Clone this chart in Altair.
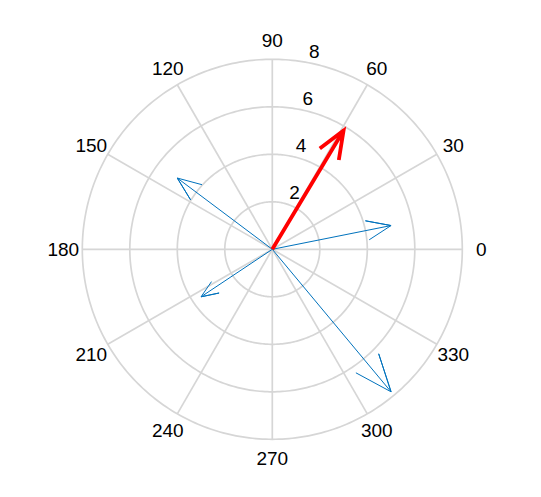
import altair as alt
import numpy as np
import pandas as pd

# Vector data (u, v components)
vec_names = ["red", "b1", "b2", "b3", "b4"]
U = [3, 5, -4, -3, 5]
V = [5, 1, 3, -2, -6]
vec_colors = ["#FF0000", "#0072BD", "#0072BD", "#0072BD", "#0072BD"]
vec_widths = [3.8, 1.0, 1.0, 1.0, 1.0]

rings = [2, 4, 6, 8]
rmax = 8
spoke_angles = [30, 60, 90, 120, 150, 180]
angle_labels = [0, 30, 60, 90, 120, 150, 180, 210, 240, 270, 300, 330]

# ---- layout geometry
W, H = 520, 475
px_per_unit = 23.75
cx, cy = 264.3, 241.3  # center position inside plot area (pixels)
xdom = [-cx / px_per_unit, (W - cx) / px_per_unit]
ydom = [-(H - cy) / px_per_unit, cy / px_per_unit]

xs = alt.Scale(domain=xdom, nice=False, zero=False)
ys = alt.Scale(domain=ydom, nice=False, zero=False)

grid_color = "#D6D6D6"

# ---- grid circles
circ_rows = []
t = np.linspace(0, 2 * np.pi, 361)
for r in rings:
    for i, a in enumerate(t):
        circ_rows.append({"ring": r, "i": i, "x": r * np.cos(a), "y": r * np.sin(a)})
circ_df = pd.DataFrame(circ_rows)
circles = alt.Chart(circ_df).mark_line(color=grid_color, strokeWidth=1.7).encode(
    x=alt.X("x:Q", scale=xs, axis=None),
    y=alt.Y("y:Q", scale=ys, axis=None),
    detail="ring:N",
    order="i:Q",
)

# ---- spokes (full diameters)
spk = pd.DataFrame({
    "x": [-rmax * np.cos(np.radians(a)) for a in spoke_angles],
    "y": [-rmax * np.sin(np.radians(a)) for a in spoke_angles],
    "x2": [rmax * np.cos(np.radians(a)) for a in spoke_angles],
    "y2": [rmax * np.sin(np.radians(a)) for a in spoke_angles],
})
spokes = alt.Chart(spk).mark_rule(color=grid_color, strokeWidth=1.7).encode(
    x=alt.X("x:Q", scale=xs, axis=None),
    y=alt.Y("y:Q", scale=ys, axis=None),
    x2="x2:Q",
    y2="y2:Q",
)

# ---- angle labels
ang_df = pd.DataFrame({
    "lab": [str(a) for a in angle_labels],
    "x": [1.1 * rmax * np.cos(np.radians(a)) for a in angle_labels],
    "y": [1.1 * rmax * np.sin(np.radians(a)) for a in angle_labels],
})
ang_text = alt.Chart(ang_df).mark_text(
    font="Liberation Sans", fontSize=19, color="#000000", align="center", baseline="middle", dy=1
).encode(
    x=alt.X("x:Q", scale=xs, axis=None),
    y=alt.Y("y:Q", scale=ys, axis=None),
    text="lab:N",
)

# ---- radial labels (at 82 degrees)
c82, s82 = np.cos(np.radians(82)), np.sin(np.radians(82))
rad_df = pd.DataFrame({
    "lab": [str(r) for r in rings],
    "x": [(r + 0.1) * c82 for r in rings],
    "y": [(r + 0.1) * s82 for r in rings],
})
rad_text = alt.Chart(rad_df).mark_text(
    font="Liberation Sans", fontSize=19, color="#000000", align="left", baseline="bottom", dx=10, dy=3
).encode(
    x=alt.X("x:Q", scale=xs, axis=None),
    y=alt.Y("y:Q", scale=ys, axis=None),
    text="lab:N",
)

# ---- arrows (MATLAB compass style)
xx = [0, 1, 0.8, 1, 0.8]
yy = [0, 0, 0.08, 0, -0.08]
layers = [circles, spokes]
arrow_layers = []
for name, u, v, col, w in zip(vec_names, U, V, vec_colors, vec_widths):
    rows = []
    for k, (a, b) in enumerate(zip(xx, yy)):
        rows.append({"vec": name, "k": k, "x": a * u - b * v, "y": a * v + b * u})
    df = pd.DataFrame(rows)
    arrow_layers.append(
        alt.Chart(df).mark_line(color=col, strokeWidth=w, strokeJoin="miter").encode(
            x=alt.X("x:Q", scale=xs, axis=None),
            y=alt.Y("y:Q", scale=ys, axis=None),
            order="k:Q",
        )
    )
# blue first, red on top
layers += arrow_layers[1:] + [arrow_layers[0]] + [ang_text, rad_text]

chart = alt.layer(*layers).properties(
    width=W, height=H, autosize=alt.AutoSizeParams(type="none"), padding=0
).configure_view(stroke=None)

chart.save("out.html", embed_options={"renderer": "svg", "actions": False})
